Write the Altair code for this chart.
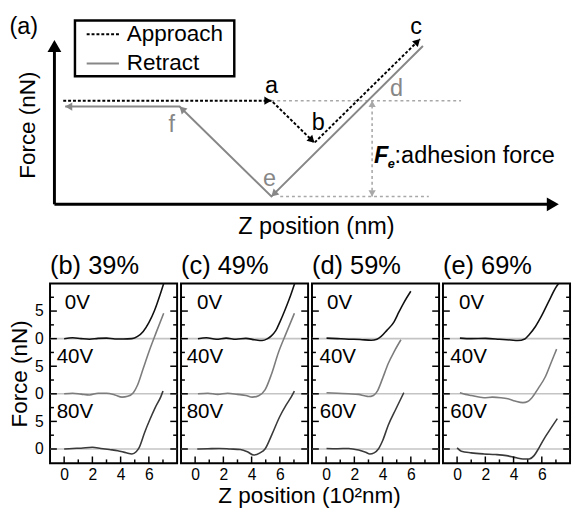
import math
import altair as alt
import pandas as pd

FONT = "Liberation Sans"
GRAY = "#878787"
LGRAY = "#a8a8a8"

# ---------------- (a) schematic, units with origin at the axis corner ----------------
z_axis_end = 516
f_axis_end = 168
approach_z = [9, 222, 266, 374]
approach_f = [106, 106, 63, 169]
retract_z = [377, 222, 128, 11]
retract_f = [162, 8, 100, 100]
top_ref_z = [222, 416]
top_ref_f = 106
bot_ref_z = [231, 383]
bot_ref_f = 8
adh_z = 325
adh_f = [8, 106]
pt_labels = ["a", "b", "c", "d", "e", "f"]
pt_z = [222, 270, 370, 350, 220, 120]
pt_f = [121, 83, 181, 118, 26, 81]
pt_color = ["black", "black", "black", GRAY, GRAY, GRAY]
legend_box_z = [21, 184]
legend_box_f = [131, 188]
legend_labels = ["Approach", "Retract"]
legend_f = [174, 144]
legend_line_z = [33, 66]
legend_text_z = 74

# ---------------- (b)-(e) force curves ----------------
panel_titles = ["(b) 39%", "(c) 49%", "(d) 59%", "(e) 69%"]
panel_volts = [["0V", "40V", "80V"], ["0V", "40V", "80V"], ["0V", "40V", "60V"], ["0V", "40V", "60V"]]
volt_x = [[0.05, -0.53, -0.53], [0.14, -0.6, -0.6], [0.07, -0.47, -0.45], [0.14, -0.48, -0.48]]
volt_y = [26.5, 16.6, 6.6]
curve_offsets = [20, 10, 0]
curve_colors = ["#111111", "#7c7c7c", "#3a3a3a"]

b_z = [[0, 0.6, 1.2, 1.8, 2.4, 3.0, 3.6, 4.2, 4.8, 5.2, 5.6, 6.0, 6.4, 6.8, 7.05],
       [0, 0.6, 1.2, 1.8, 2.4, 3.0, 3.6, 4.1, 4.5, 4.9, 5.2, 5.6, 6.0, 6.5, 7.05],
       [0, 0.6, 1.2, 2.0, 2.6, 3.2, 3.8, 4.4, 4.8, 5.1, 5.3, 5.7, 6.05, 6.45, 6.85, 7.0]]
b_f = [[0, 0.15, 0, -0.1, 0.05, 0.1, -0.05, -0.05, 0, 0.4, 1.3, 2.9, 5.1, 8.0, 10.0],
       [0, 0.1, -0.05, -0.2, 0.1, 0.1, -0.2, -0.6, -0.45, 0.2, 1.6, 4.6, 7.6, 11.0, 14.6],
       [0, 0.1, 0.15, 0.3, 0.1, -0.1, -0.3, -0.7, -0.9, -0.5, 0.2, 3.0, 5.2, 7.5, 9.5, 10.5]]
c_z = [[0.2, 0.8, 1.5, 2.2, 2.9, 3.6, 4.2, 4.75, 5.1, 5.4, 5.7, 6.0, 6.35, 6.7, 7.05],
       [0.2, 0.9, 1.6, 2.3, 3.0, 3.6, 4.05, 4.5, 4.95, 5.4, 5.9, 6.45, 7.03],
       [0.15, 0.9, 1.7, 2.5, 3.2, 3.7, 4.15, 4.6, 4.95, 5.45, 5.98, 6.45, 6.8, 7.03]]
c_f = [[0, 0.15, -0.1, 0.1, -0.1, 0.05, -0.2, -0.35, -0.05, 0.5, 1.4, 3.0, 5.1, 7.4, 10.0],
       [0, 0.1, -0.1, 0.1, -0.1, -0.3, -0.6, -0.35, 0.7, 3.5, 7.5, 11.0, 14.6],
       [0, 0.05, 0.1, 0.0, -0.1, -0.5, -1.1, -0.7, 0.0, 2.7, 5.8, 8.0, 9.4, 10.5]]
d_z = [[0.03, 0.8, 1.6, 2.4, 3.2, 3.6, 3.9, 4.3, 4.8, 5.15, 5.5, 6.0],
       [0.03, 0.8, 1.6, 2.3, 2.7, 3.0, 3.35, 3.65, 4.0, 4.4, 4.85, 5.3],
       [0.03, 0.8, 1.6, 2.3, 2.8, 3.1, 3.4, 3.7, 4.0, 4.4, 4.95, 5.5]]
d_f = [[0.1, 0.0, -0.1, -0.15, -0.3, -0.1, 0.4, 1.5, 3.0, 4.8, 6.5, 8.6],
       [0.2, 0.1, 0.0, -0.1, -0.35, -0.5, -0.3, 0.6, 2.8, 5.5, 7.8, 9.8],
       [0.1, 0.05, 0.1, -0.2, -0.6, -0.9, -0.7, 0.0, 1.5, 4.3, 7.3, 10.2]]
e_z = [[0.2, 1.0, 2.0, 3.0, 3.8, 4.3, 4.8, 5.1, 5.55, 6.0, 6.5, 7.05, 7.2],
       [0.2, 0.6, 1.0, 1.9, 2.5, 3.1, 3.6, 4.1, 4.66, 5.0, 5.3, 5.75, 6.25, 6.65, 7.05],
       [0.0, 0.3, 1.0, 1.9, 2.7, 3.5, 4.2, 4.66, 5.1, 5.45, 5.8, 6.15, 6.5, 7.1]]
e_f = [[0.1, 0.0, 0.05, -0.1, -0.25, -0.35, -0.05, 0.7, 2.2, 4.2, 6.8, 9.5, 10.0],
       [0.2, -0.1, -0.3, -0.7, -0.6, -0.7, -0.9, -1.3, -1.6, -1.4, -0.7, 1.0, 3.1, 5.6, 8.1],
       [0.2, -0.4, -0.7, -0.9, -1.0, -1.2, -1.6, -1.8, -1.8, -1.2, 0.2, 1.8, 3.2, 5.5]]
panel_z = [b_z, c_z, d_z, e_z]
panel_f = [b_f, c_f, d_f, e_f]

baselines = [0, 10, 20]
y_major = [0, 5, 10, 15, 20, 25]
y_minor = [2.5, 7.5, 12.5, 17.5, 22.5, 27.5]
x_major = [0, 2, 4, 6]
x_minor = [1, 3, 5, 7]

# ======================= panel (a) =======================
TW, TH = 521, 229
xs_a = alt.Scale(domain=[-4.5, 516.5], nice=False, zero=False)
ys_a = alt.Scale(domain=[-35, 194], nice=False, zero=False)
X = lambda f="z": alt.X(f"{f}:Q", scale=xs_a, axis=None)
Y = lambda f="f": alt.Y(f"{f}:Q", scale=ys_a, axis=None)


def head(tip, frm, size, color):
    dx, dy = tip[0] - frm[0], tip[1] - frm[1]
    d = math.hypot(dx, dy)
    back = 0.433 * math.sqrt(size)
    return dict(z=tip[0] - dx / d * back, f=tip[1] - dy / d * back,
                angle=math.degrees(math.atan2(dx, dy)) % 360, size=size, color=color)


heads = [head((z_axis_end, 0), (0, 0), 200, "black"),
         head((0, f_axis_end), (0, 0), 200, "black")]
for i in range(1, 4):
    heads.append(head((approach_z[i], approach_f[i]), (approach_z[i - 1], approach_f[i - 1]), 70, "black"))
    heads.append(head((retract_z[i], retract_f[i]), (retract_z[i - 1], retract_f[i - 1]), 70, GRAY))
heads.append(head((adh_z, adh_f[1]), (adh_z, adh_f[0]), 55, LGRAY))
heads.append(head((adh_z, adh_f[0]), (adh_z, adh_f[1]), 55, LGRAY))
heads_df = pd.DataFrame(heads)

axes_df = pd.DataFrame({"z": [0, 0], "f": [0, 0], "z2": [z_axis_end - 6, 0], "f2": [0, f_axis_end - 6]})
axes = alt.Chart(axes_df).mark_rule(color="black", strokeWidth=3).encode(
    x=X(), y=Y(), x2="z2:Q", y2="f2:Q")

appr_df = pd.DataFrame({"z": approach_z, "f": approach_f, "o": range(4)})
appr = alt.Chart(appr_df).mark_line(color="black", strokeWidth=2, strokeDash=[3, 2]).encode(
    x=X(), y=Y(), order="o:Q")
retr_df = pd.DataFrame({"z": retract_z, "f": retract_f, "o": range(4)})
retr = alt.Chart(retr_df).mark_line(color=GRAY, strokeWidth=2).encode(x=X(), y=Y(), order="o:Q")

ref_df = pd.DataFrame({"z": [top_ref_z[0], bot_ref_z[0], adh_z],
                       "z2": [top_ref_z[1], bot_ref_z[1], adh_z],
                       "f": [top_ref_f, bot_ref_f, adh_f[0]],
                       "f2": [top_ref_f, bot_ref_f, adh_f[1]]})
refs = alt.Chart(ref_df).mark_rule(color=LGRAY, strokeWidth=1.6, strokeDash=[3, 3]).encode(
    x=X(), y=Y(), x2="z2:Q", y2="f2:Q")

arrows = alt.Chart(heads_df).mark_point(shape="triangle-up", filled=True, opacity=1, strokeWidth=0).encode(
    x=X(), y=Y(), angle=alt.Angle("angle:Q", scale=None), size=alt.Size("size:Q", scale=None),
    color=alt.Color("color:N", scale=None))

pts_df = pd.DataFrame({"z": pt_z, "f": pt_f, "t": pt_labels, "c": pt_color})
pts = alt.Chart(pts_df).mark_text(fontSize=24, font=FONT, baseline="middle").encode(
    x=X(), y=Y(), text="t:N", color=alt.Color("c:N", scale=None))

box_df = pd.DataFrame({"z": [legend_box_z[0]], "z2": [legend_box_z[1]],
                       "f": [legend_box_f[0]], "f2": [legend_box_f[1]]})
box = alt.Chart(box_df).mark_rect(fill="white", stroke="black", strokeWidth=2.5).encode(
    x=X(), y=Y(), x2="z2:Q", y2="f2:Q")
leg1 = alt.Chart(pd.DataFrame({"z": [legend_line_z[0]], "z2": [legend_line_z[1]], "f": [legend_f[0]]})).mark_rule(
    color="black", strokeWidth=2, strokeDash=[3, 2]).encode(x=X(), x2="z2:Q", y=Y())
leg2 = alt.Chart(pd.DataFrame({"z": [legend_line_z[0]], "z2": [legend_line_z[1]], "f": [legend_f[1]]})).mark_rule(
    color=GRAY, strokeWidth=2).encode(x=X(), x2="z2:Q", y=Y())
legt = alt.Chart(pd.DataFrame({"z": [legend_text_z] * 2, "f": legend_f, "t": legend_labels})).mark_text(
    fontSize=23, font=FONT, align="left", baseline="middle").encode(x=X(), y=Y(), text="t:N")


def label(txt, z, f, size=23, **kw):
    return alt.Chart(pd.DataFrame({"z": [z], "f": [f], "t": [txt]})).mark_text(
        fontSize=size, font=FONT, **kw).encode(x=X(), y=Y(), text="t:N")


lab_a = label("(a)", -46, 181, 24, align="left", baseline="middle")
lab_fy = label("Force (nN)", -27, 81, 23, angle=270, align="center", baseline="middle")
lab_zx = label("Z position (nm)", 268, -23, 24, align="center", baseline="middle")
lab_F = label("F", 327, 49, 24, align="left", baseline="middle", fontWeight="bold", fontStyle="italic")
lab_e = label("e", 341, 41, 13, align="left", baseline="middle", fontWeight="bold", fontStyle="italic")
lab_adh = label(":adhesion force", 348, 49, 24, align="left", baseline="middle")

top = alt.layer(refs, appr, retr, axes, arrows, box, leg1, leg2, legt, pts,
                lab_a, lab_fy, lab_zx, lab_F, lab_e, lab_adh).properties(
    width=TW, height=TH, view=alt.ViewBackground(stroke="transparent"))

# ======================= panels (b)-(e) =======================
PW, PH = 130, 184
xs = alt.Scale(domain=[-1, 8], nice=False, zero=False)
ys = alt.Scale(domain=[-2.6, 30], nice=False, zero=False)
x_axis = alt.Axis(values=x_major, ticks=False, domain=False, grid=False, labelFontSize=16, labelFont=FONT,
                  labelColor="black", labelPadding=4, title=None)
y_axis = alt.Axis(values=y_major, labelExpr="datum.value % 10 == 0 ? '0' : '5'", ticks=False, domain=False,
                  grid=False, labelFontSize=16, labelFont=FONT, labelColor="black", labelPadding=7,
                  title="Force (nN)", titleFontSize=23, titleFont=FONT, titleFontWeight="normal",
                  titleColor="black", titlePadding=3)


def panel(i):
    yax = y_axis if i == 0 else None
    PX = lambda f="z": alt.X(f"{f}:Q", scale=xs, axis=x_axis)
    PY = lambda f="f": alt.Y(f"{f}:Q", scale=ys, axis=yax)
    rows = []
    for k in range(3):
        for z, f in zip(panel_z[i][k], panel_f[i][k]):
            rows.append({"z": z, "f": f + curve_offsets[k], "s": k, "c": curve_colors[k]})
    cdf = pd.DataFrame(rows)
    base = alt.Chart(pd.DataFrame({"f": baselines})).mark_rule(color="#c4c4c4", strokeWidth=1.6).encode(y=PY())
    curves = alt.Chart(cdf).mark_line(strokeWidth=1.6, interpolate="monotone", clip=True).encode(
        x=PX(), y=PY(), detail="s:N", color=alt.Color("c:N", scale=None))
    tick = dict(color="black", strokeWidth=1.5)
    ymaj = pd.DataFrame({"f": y_major})
    ymin = pd.DataFrame({"f": y_minor})
    xmaj = pd.DataFrame({"z": x_major})
    xmin = pd.DataFrame({"z": x_minor})
    t1 = alt.Chart(ymaj).mark_rule(**tick).encode(y=PY(), x=alt.value(0), x2=alt.value(7))
    t2 = alt.Chart(ymin).mark_rule(**tick).encode(y=PY(), x=alt.value(0), x2=alt.value(4))
    t3 = alt.Chart(ymaj).mark_rule(**tick).encode(y=PY(), x=alt.value(PW), x2=alt.value(PW - 7))
    t4 = alt.Chart(ymin).mark_rule(**tick).encode(y=PY(), x=alt.value(PW), x2=alt.value(PW - 4))
    t5 = alt.Chart(xmaj).mark_rule(**tick).encode(x=PX(), y=alt.value(PH), y2=alt.value(PH - 7))
    t6 = alt.Chart(xmin).mark_rule(**tick).encode(x=PX(), y=alt.value(PH), y2=alt.value(PH - 4))
    vdf = pd.DataFrame({"z": volt_x[i], "f": volt_y, "t": panel_volts[i]})
    volts = alt.Chart(vdf).mark_text(fontSize=21, font=FONT, align="left", baseline="middle").encode(
        x=PX(), y=PY(), text="t:N")
    return alt.layer(base, curves, t1, t2, t3, t4, t5, t6, volts).properties(
        width=PW, height=PH,
        title=alt.TitleParams(panel_titles[i], anchor="start", frame="group", fontSize=26, font=FONT,
                              fontWeight="normal", offset=5, color="black"))


bottom = alt.hconcat(*[panel(i) for i in range(4)], spacing=0).properties(
    title=alt.TitleParams("Z position (10²nm)", orient="bottom", anchor="middle", fontSize=23, font=FONT,
                          fontWeight="normal", color="black", dx=20, offset=2))

chart = alt.vconcat(top, bottom, spacing=13).properties(padding=0).configure_view(
    stroke="black", strokeWidth=2)

chart.save("out.html", embed_options={"renderer": "svg", "actions": False})
